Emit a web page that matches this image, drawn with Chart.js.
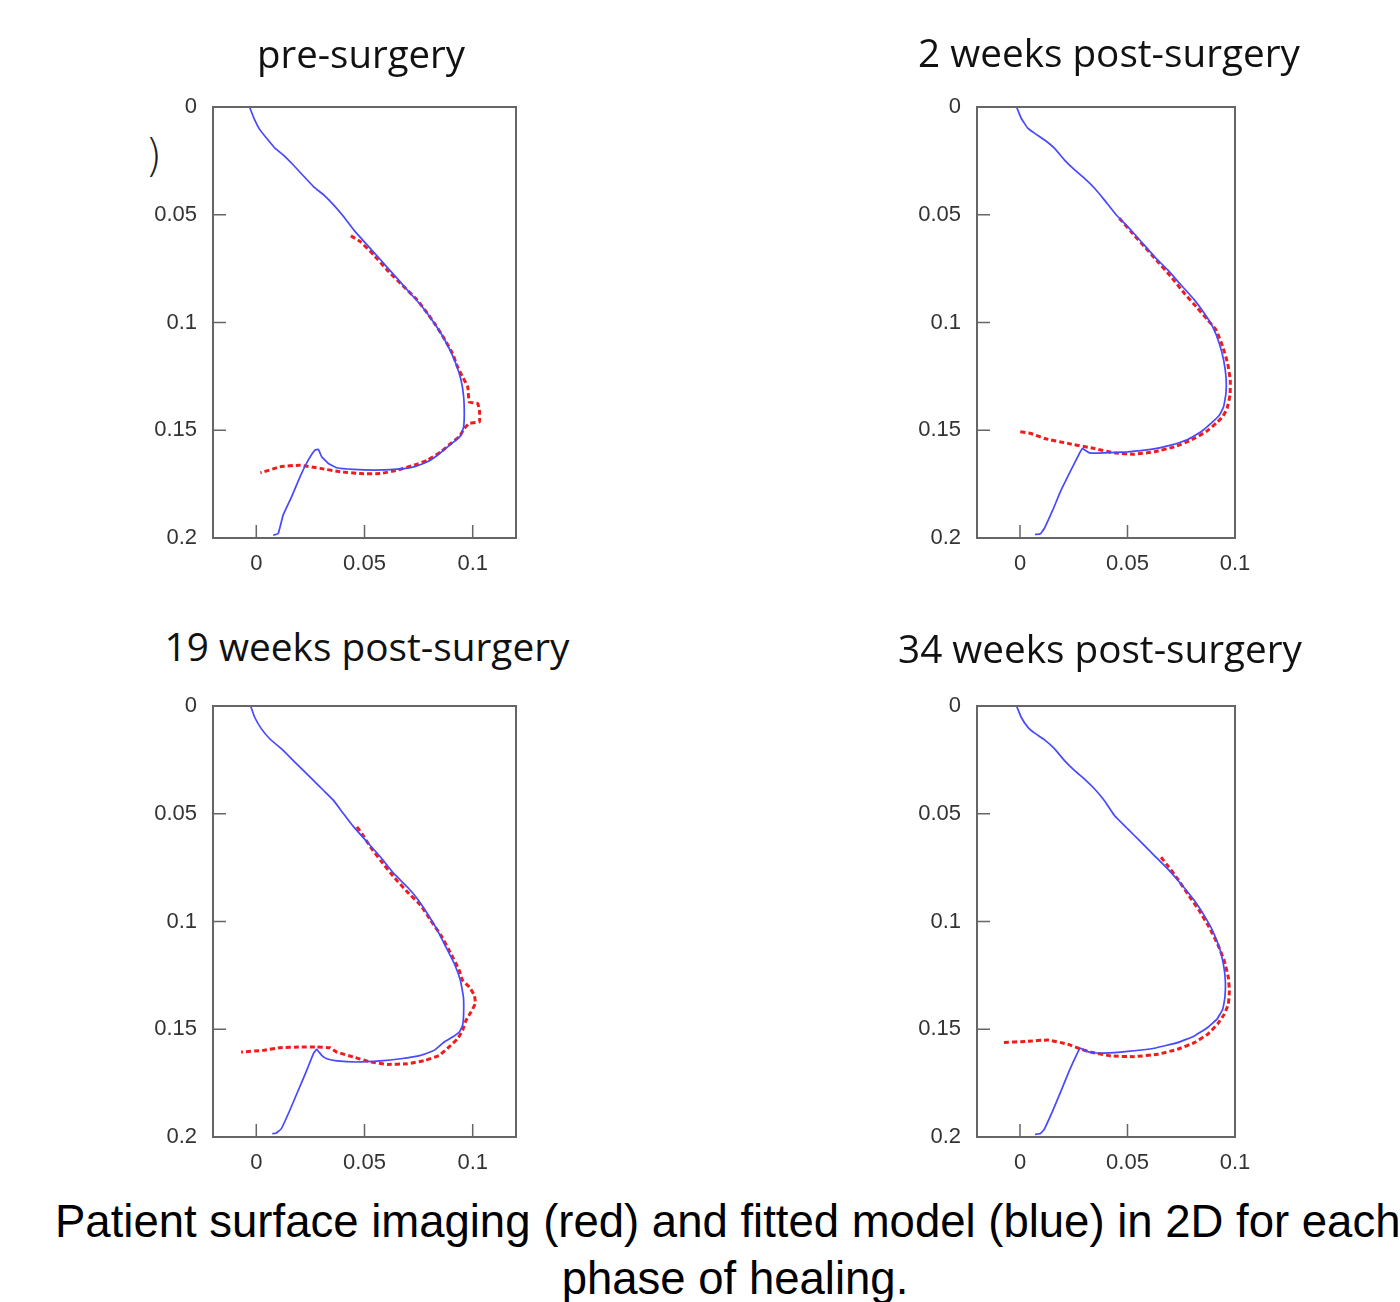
<!DOCTYPE html>
<html><head><meta charset="utf-8">
<script src="https://cdn.jsdelivr.net/npm/chart.js@4.4.1/dist/chart.umd.min.js"></script>
<style>
html,body{margin:0;padding:0;background:#fff;}
body{width:1400px;height:1302px;overflow:hidden;position:relative;}
canvas{position:absolute;}
.ttl{position:absolute;font-family:"Open Sans";color:#111;white-space:nowrap;line-height:1;}
.cap{position:absolute;font-family:"Liberation Sans";font-size:45.5px;line-height:57px;color:#000;white-space:nowrap;}
#cap1{left:55px;top:1193px;}
#cap2{left:-65px;width:1600px;top:1250px;text-align:center;}
#paren{position:absolute;left:145px;top:134px;font-family:"DejaVu Sans";font-weight:200;font-size:44px;color:#222;line-height:1;}
</style></head><body>
<span id="paren">)</span>
<div class="cap" id="cap1">Patient surface imaging (red) and fitted model (blue) in 2D for each</div>
<div class="cap" id="cap2">phase of healing.</div>
<script>
// ---------- data ----------
const xTicks = [0, 0.05, 0.1];
const yTicks = [0, 0.05, 0.1, 0.15, 0.2];
const panelTitles = ['pre-surgery', '2 weeks post-surgery', '19 weeks post-surgery', '34 weeks post-surgery'];

const preModel = [[-0.0031,0],[-0.0008,0.0059],[0.0016,0.0105],[0.0047,0.0144],[0.0085,0.019],[0.0124,0.0222],[0.017,0.0268],[0.0217,0.0319],[0.0264,0.0369],[0.031,0.0407],[0.0357,0.0454],[0.0403,0.0508],[0.045,0.057],[0.0512,0.064],[0.0574,0.0709],[0.0636,0.0779],[0.0698,0.0849],[0.076,0.0919],[0.0806,0.098],[0.0853,0.105],[0.0891,0.112],[0.0922,0.119],[0.0946,0.1267],[0.0958,0.1344],[0.0961,0.1422],[0.0958,0.1484],[0.0946,0.1523],[0.0922,0.1546],[0.0884,0.1577],[0.0837,0.1616],[0.0791,0.1646],[0.0729,0.167],[0.0636,0.1682],[0.0543,0.1685],[0.045,0.1682],[0.0372,0.1674],[0.0333,0.1654],[0.0302,0.1623],[0.0287,0.1589],[0.0271,0.1592],[0.024,0.1639],[0.0202,0.1716],[0.0163,0.1809],[0.0124,0.1894],[0.0101,0.198],[0.0078,0.1987]];
const preImaging = [[0.0437,0.0598],[0.0481,0.0625],[0.0543,0.0687],[0.0605,0.0757],[0.0682,0.0834],[0.0744,0.0896],[0.0791,0.0958],[0.0829,0.1012],[0.0868,0.1074],[0.0907,0.1144],[0.093,0.1206],[0.0953,0.1252],[0.0977,0.1299],[0.0984,0.1369],[0.1023,0.1376],[0.1031,0.1407],[0.1031,0.1461],[0.0984,0.1468],[0.0961,0.1492],[0.0938,0.153],[0.0899,0.1561],[0.0853,0.16],[0.0791,0.1639],[0.0729,0.1662],[0.0651,0.1685],[0.0574,0.1701],[0.0481,0.1701],[0.0388,0.1693],[0.0295,0.1677],[0.0202,0.1662],[0.0109,0.167],[0.0019,0.1698]];

const week2Model = [[-0.0016,0],[0.0005,0.0051],[0.0036,0.0098],[0.0067,0.0121],[0.0113,0.0152],[0.016,0.0191],[0.0206,0.0245],[0.0253,0.0291],[0.0299,0.033],[0.0346,0.0376],[0.0392,0.0431],[0.0447,0.05],[0.0501,0.0555],[0.0563,0.0624],[0.0625,0.0694],[0.0687,0.0756],[0.0749,0.0826],[0.0811,0.0895],[0.0857,0.0957],[0.0896,0.1019],[0.0927,0.1097],[0.0947,0.1174],[0.0958,0.1252],[0.0958,0.1329],[0.0947,0.1391],[0.0927,0.143],[0.0888,0.1468],[0.0842,0.1507],[0.078,0.1543],[0.0702,0.1569],[0.0609,0.1589],[0.0501,0.16],[0.0392,0.1605],[0.0322,0.1605],[0.0302,0.1592],[0.0291,0.1585],[0.0276,0.1608],[0.0237,0.1685],[0.0191,0.1778],[0.0152,0.1871],[0.0113,0.1956],[0.0095,0.198],[0.007,0.1984]];
const week2Imaging = [[0.0462,0.0516],[0.0516,0.0578],[0.0578,0.0647],[0.064,0.0717],[0.0702,0.0787],[0.0764,0.0864],[0.0826,0.0934],[0.0873,0.0988],[0.0912,0.1035],[0.0943,0.1112],[0.0966,0.119],[0.0978,0.1267],[0.0977,0.1337],[0.0963,0.1399],[0.0943,0.1437],[0.0912,0.1468],[0.0865,0.1507],[0.0795,0.1546],[0.0718,0.1577],[0.0625,0.16],[0.0532,0.1611],[0.0439,0.1605],[0.0346,0.1585],[0.0222,0.1561],[0.0113,0.1538],[0.0051,0.1515],[0,0.1507]];

const week19Model = [[-0.0026,0],[-0.0008,0.0051],[0.0023,0.0105],[0.0062,0.0152],[0.0124,0.0206],[0.017,0.0252],[0.0217,0.0299],[0.0264,0.0345],[0.031,0.0391],[0.0357,0.0438],[0.0403,0.05],[0.045,0.0561],[0.0512,0.0631],[0.0574,0.0701],[0.0636,0.0778],[0.0698,0.084],[0.0744,0.0894],[0.0791,0.0964],[0.0837,0.1041],[0.0876,0.1118],[0.0915,0.1196],[0.0943,0.1273],[0.0957,0.135],[0.0958,0.1428],[0.0953,0.1482],[0.0938,0.1513],[0.0907,0.1536],[0.0868,0.1559],[0.0822,0.1598],[0.076,0.1621],[0.0667,0.1637],[0.0574,0.1647],[0.0465,0.1652],[0.0372,0.1647],[0.0326,0.1637],[0.0302,0.1621],[0.0279,0.1593],[0.0264,0.1613],[0.0233,0.1691],[0.0194,0.1783],[0.0155,0.1876],[0.0116,0.1961],[0.0093,0.1981],[0.0074,0.1985]];
const week19Imaging = [[0.0465,0.0561],[0.0488,0.0592],[0.0527,0.0654],[0.0574,0.0716],[0.0636,0.0794],[0.0698,0.0863],[0.076,0.0925],[0.0806,0.0995],[0.0853,0.1064],[0.0899,0.1149],[0.0938,0.1227],[0.0953,0.1273],[0.0984,0.1304],[0.1008,0.1343],[0.1012,0.1381],[0.0992,0.142],[0.0969,0.1459],[0.0953,0.1505],[0.093,0.1544],[0.0891,0.1582],[0.0845,0.1621],[0.0783,0.1644],[0.0698,0.166],[0.0605,0.1663],[0.0527,0.1652],[0.045,0.1629],[0.0372,0.1606],[0.0341,0.1586],[0.0279,0.1582],[0.0202,0.1582],[0.0109,0.1586],[0.0031,0.1598],[-0.007,0.1606]];

const week34Model = [[-0.0016,0],[0.0005,0.0051],[0.0036,0.0098],[0.0067,0.0125],[0.0113,0.0156],[0.016,0.0198],[0.0206,0.0252],[0.0253,0.0299],[0.0299,0.0338],[0.0346,0.0384],[0.0392,0.0438],[0.0439,0.0508],[0.0501,0.057],[0.0563,0.0632],[0.0625,0.0694],[0.0687,0.0756],[0.0749,0.0826],[0.0811,0.0903],[0.0857,0.0973],[0.0896,0.1043],[0.0927,0.112],[0.0946,0.1198],[0.0955,0.1275],[0.0953,0.1352],[0.0943,0.1407],[0.0916,0.1453],[0.0873,0.1492],[0.0811,0.1531],[0.0733,0.1562],[0.0625,0.1588],[0.0501,0.1603],[0.0392,0.1611],[0.033,0.1608],[0.0299,0.1597],[0.0281,0.1588],[0.0268,0.1608],[0.0229,0.1693],[0.0191,0.1786],[0.0152,0.1879],[0.0113,0.1964],[0.0095,0.1984],[0.007,0.1988]];
const week34Imaging = [[0.0656,0.0702],[0.0687,0.0741],[0.0733,0.0802],[0.078,0.0872],[0.0834,0.095],[0.088,0.1027],[0.0919,0.1105],[0.095,0.1182],[0.0969,0.126],[0.0974,0.1321],[0.0969,0.1383],[0.095,0.143],[0.0919,0.1476],[0.0873,0.1523],[0.0811,0.1562],[0.0733,0.1593],[0.064,0.1616],[0.0532,0.1627],[0.0423,0.1624],[0.0338,0.1608],[0.0284,0.1593],[0.0222,0.1569],[0.0129,0.155],[0.0036,0.1556],[-0.0088,0.1562]];

// ---------- layout ----------
const panels = [
  {model: preModel,    imaging: preImaging,    l:213, t:107, r:516, b:538,  xMax:0.12, tx:361,  ty:68,  tw:208},
  {model: week2Model,  imaging: week2Imaging,  l:977, t:107, r:1235, b:538, xMax:0.1,  tx:1109, ty:67,  tw:382},
  {model: week19Model, imaging: week19Imaging, l:213, t:706, r:516, b:1137, xMax:0.12, tx:367,  ty:661, tw:405},
  {model: week34Model, imaging: week34Imaging, l:977, t:706, r:1235, b:1137,xMax:0.1,  tx:1100, ty:663, tw:404}
];
const toXY = arr => arr.map(p => ({x: p[0], y: p[1]}));

const framePlugin = {
  id: 'frame',
  afterDatasetsDraw(chart) {
    const {ctx, chartArea: a, scales: {x, y}} = chart;
    ctx.save();
    ctx.strokeStyle = '#666';
    ctx.lineWidth = 2;
    ctx.strokeRect(a.left, a.top, a.right - a.left, a.bottom - a.top);
    ctx.beginPath();
    x.ticks.forEach(t => { const px = x.getPixelForValue(t.value); ctx.moveTo(px, a.bottom); ctx.lineTo(px, a.bottom - 13); });
    y.ticks.forEach(t => { const py = y.getPixelForValue(t.value); ctx.moveTo(a.left, py); ctx.lineTo(a.left + 13, py); });
    ctx.lineWidth = 1.5;
    ctx.stroke();
    ctx.restore();
  }
};

const tickFont = {family: 'Liberation Sans', size: 22};
const padL = 90, padT = 34, padR = 40, padB = 50;

panels.forEach((P, i) => {
  const cv = document.createElement('canvas');
  const w = P.r - P.l, h = P.b - P.t;
  cv.width = w + padL + padR; cv.height = h + padT + padB;
  cv.style.left = (P.l - padL) + 'px'; cv.style.top = (P.t - padT) + 'px';
  cv.style.width = cv.width + 'px'; cv.style.height = cv.height + 'px';
  document.body.appendChild(cv);

  new Chart(cv, {
    type: 'scatter',
    data: {datasets: [
      {label: 'fitted model', data: toXY(P.model), showLine: true, borderColor: '#4848ff', borderWidth: 1.7, pointRadius: 0, tension: 0.1, order: 0},
      {label: 'surface imaging', data: toXY(P.imaging), showLine: true, borderColor: '#f01c1c', borderWidth: 3, borderDash: [5, 3], pointRadius: 0, tension: 0.1, order: 1}
    ]},
    options: {
      responsive: false, animation: false, devicePixelRatio: 1,
      layout: {padding: {left: 0, top: padT, right: padR, bottom: 0}},
      plugins: {legend: {display: false}, tooltip: {enabled: false}, title: {display: false}},
      scales: {
        x: {type: 'linear', min: -0.02, max: P.xMax,
            afterBuildTicks: s => { s.ticks = xTicks.map(v => ({value: v})); },
            afterFit: s => { s.height = padB; },
            grid: {display: false}, border: {display: false},
            ticks: {font: tickFont, color: '#333', padding: 5, maxRotation: 0, autoSkip: false, callback: v => String(v)}},
        y: {type: 'linear', min: 0, max: 0.2, reverse: true,
            afterBuildTicks: s => { s.ticks = yTicks.map(v => ({value: v})); },
            afterFit: s => { s.width = padL; },
            grid: {display: false}, border: {display: false},
            ticks: {font: tickFont, color: '#333', padding: 8, autoSkip: false, callback: v => String(v)}}
      }
    },
    plugins: [framePlugin]
  });

  // title as real text, fitted to the reference width
  const t = document.createElement('div');
  t.className = 'ttl';
  t.textContent = panelTitles[i];
  t.style.fontSize = '40px';
  document.body.appendChild(t);
  const fs = 40 * P.tw / t.getBoundingClientRect().width;
  t.style.fontSize = fs.toFixed(2) + 'px';
  const wNow = t.getBoundingClientRect().width;
  t.style.left = (P.tx - wNow / 2) + 'px';
  t.style.top = (P.ty - 1.069 * fs - (1 - 1.362) / 2 * fs) + 'px';
});
</script>
</body></html>
